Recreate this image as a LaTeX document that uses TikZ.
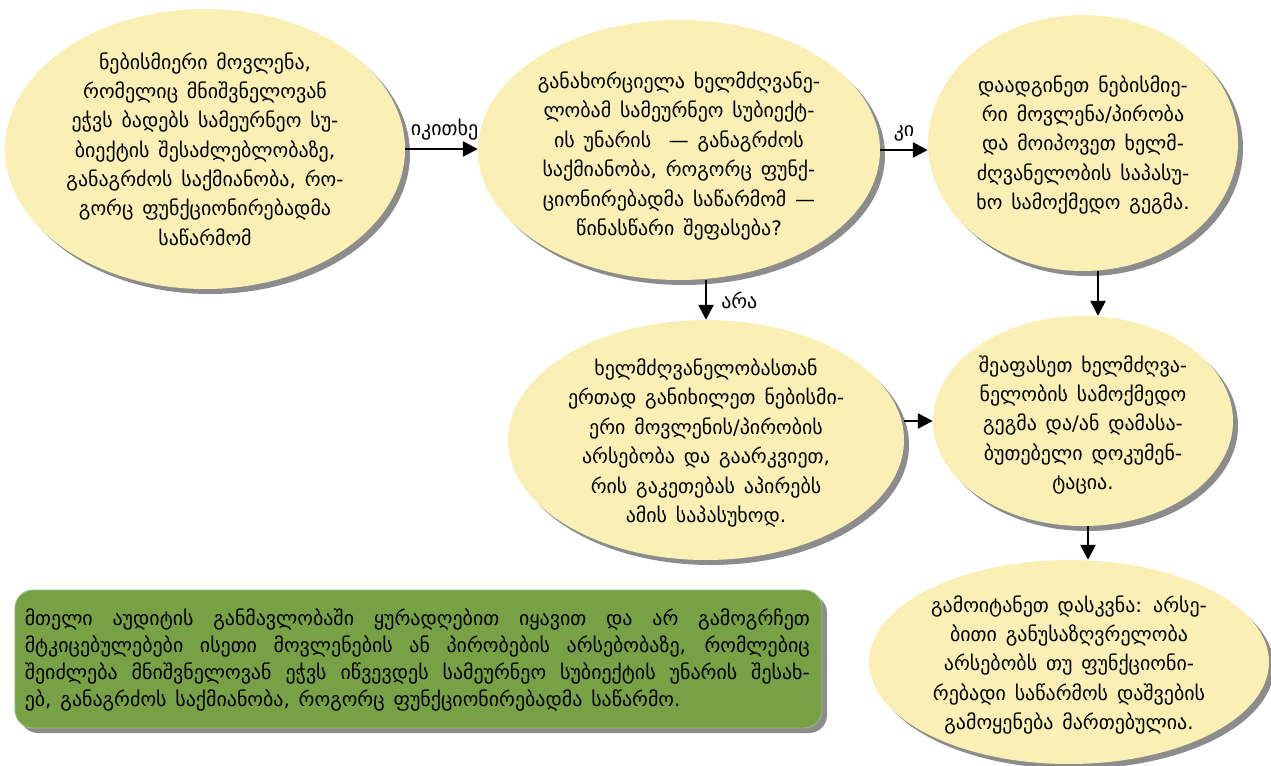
\documentclass[tikz,border=0pt]{standalone}
\usepackage{fontspec}
\setmainfont{DejaVu Sans}[WordSpace=1.4]
\usetikzlibrary{shapes.geometric,arrows.meta,shadows}
\definecolor{pale}{RGB}{250,240,182}
\definecolor{leaf}{RGB}{119,161,68}
\definecolor{shade}{RGB}{128,128,128}
\begin{document}
\begin{tikzpicture}[x=1bp,y=-1bp,
  bubble/.style={ellipse, draw=none, fill=pale, inner sep=0pt,
    drop shadow={shadow xshift=5bp, shadow yshift=-5bp, fill=shade, opacity=0.9}},
  txt/.style={align=center, font=\fontsize{20}{29.5}\selectfont, inner sep=0pt},
  arr/.style={line width=2.5bp, -{Triangle[length=15bp,width=15bp]}},
  lbl/.style={font=\fontsize{20}{22}\selectfont, inner sep=0pt}]
\useasboundingbox (0,0) rectangle (1271,766);

% ellipses of the flow
\node[bubble, minimum width=400bp, minimum height=280bp] (A) at (205,149) {};
\node[bubble, minimum width=402bp, minimum height=260bp] (B) at (679,150) {};
\node[bubble, minimum width=310bp, minimum height=256bp] (C) at (1083,143) {};
\node[bubble, minimum width=396bp, minimum height=240bp] (D) at (706,440) {};
\node[bubble, minimum width=300bp, minimum height=210bp] (E) at (1083,421) {};
\node[bubble, minimum width=400bp, minimum height=204bp] (F) at (1069,662) {};

% green note
\node[rounded corners=18bp, fill=leaf, draw=leaf!70!white, line width=0.8bp,
  minimum width=807bp, minimum height=138bp,
  drop shadow={shadow xshift=5bp, shadow yshift=-5bp, fill=shade, opacity=0.9}] (G) at (418.5,659) {};

% texts
\node[txt] (At) at (A) {ნებისმიერი მოვლენა,\\რომელიც მნიშვნელოვან\\ეჭვს ბადებს სამეურნეო სუ-\\ბიექტის შესაძლებლობაზე,\\განაგრძოს საქმიანობა, რო-\\გორც ფუნქციონირებადმა\\საწარმომ};
\node[txt] (Bt) at ([yshift=-6bp]B.center) {განახორციელა ხელმძღვანე-\\ლობამ სამეურნეო სუბიექტ-\\ის უნარის\ \ — განაგრძოს\\საქმიანობა, როგორც ფუნქ-\\ციონირებადმა საწარმომ —\\წინასწარი შეფასება?};
\node[txt] (Ct) at ([yshift=-2bp]C.center) {დაადგინეთ ნებისმიე-\\რი მოვლენა/პირობა\\და მოიპოვეთ ხელმ-\\ძღვანელობის საპასუ-\\ხო სამოქმედო გეგმა.};
\node[txt] (Dt) at ([yshift=-3bp]D.center) {ხელმძღვანელობასთან\\ერთად განიხილეთ ნებისმი-\\ერი მოვლენის/პირობის\\არსებობა და გაარკვიეთ,\\რის გაკეთებას აპირებს\\ამის საპასუხოდ.};
\node[txt] (Et) at ([yshift=-4bp]E.center) {შეაფასეთ ხელმძღვა-\\ნელობის სამოქმედო\\გეგმა და/ან დამასა-\\ბუთებელი დოკუმენ-\\ტაცია.};
\node[txt] (Ft) at ([yshift=-3bp]F.center) {გამოიტანეთ დასკვნა: არსე-\\ბითი განუსაზღვრელობა\\არსებობს თუ ფუნქციონი-\\რებადი საწარმოს დაშვების\\გამოყენება მართებულია.};
\node[align=left, inner sep=0pt, font=\fontsize{20}{27}\selectfont, anchor=west] (Gt) at ([xshift=10bp,yshift=-1bp]G.west)
  {\makebox[785bp][s]{მთელი აუდიტის განმავლობაში ყურადღებით იყავით და არ გამოგრჩეთ}\\
   \makebox[785bp][s]{მტკიცებულებები ისეთი მოვლენების ან პირობების არსებობაზე, რომლებიც}\\
   \makebox[785bp][s]{შეიძლება მნიშვნელოვან ეჭვს იწვევდეს სამეურნეო სუბიექტის უნარის შესახ-}\\
   ებ, განაგრძოს საქმიანობა, როგორც ფუნქციონირებადმა საწარმო.};

% connectors
\draw[arr] (A.east) -- (A.east -| B.west)
  node[lbl, midway, above=8bp, xshift=3bp] (l1) {იკითხე};
\draw[arr] (B.east) -- (B.east -| C.west)
  node[lbl, midway, above=8bp] (l2) {კი};
\draw[arr] (B.south -| D.north) -- (D.north)
  node[lbl, midway, right=14bp] (l3) {არა};
\draw[arr] ([xshift=15bp]C.south) -- ([xshift=15bp]C.south |- E.north);
\draw[arr] (E.west -| D.east) -- (E.west);
\draw[arr] ([xshift=5bp]E.south) -- ([xshift=5bp]E.south |- F.north);
\end{tikzpicture}
\end{document}
